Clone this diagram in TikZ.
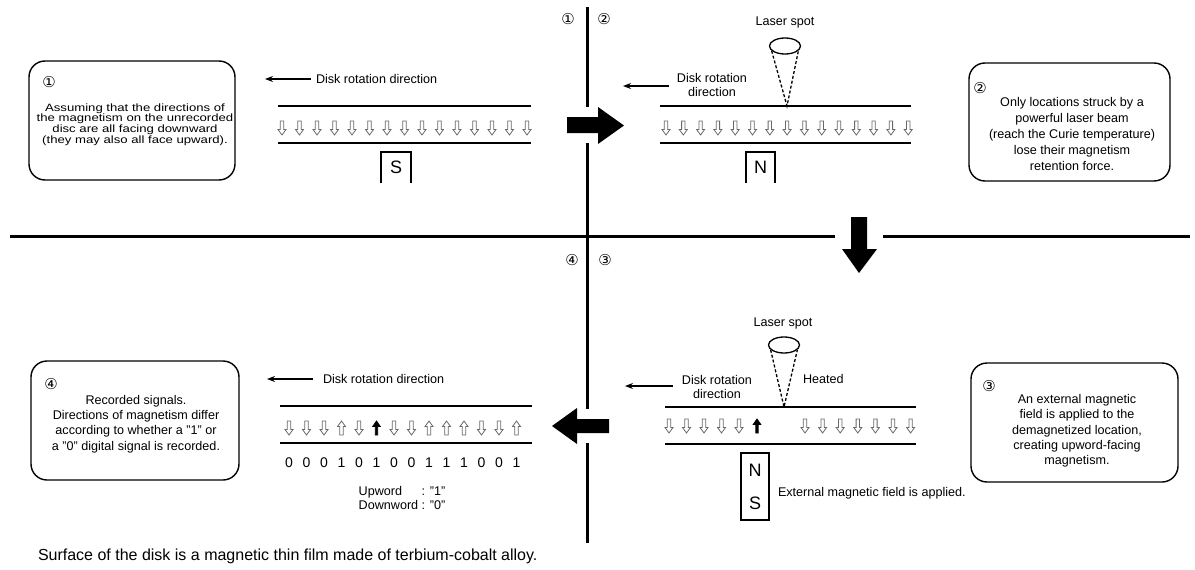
\documentclass[tikz,border=0pt]{standalone}
\usepackage{fontspec}
\setmainfont{Liberation Sans}
\newfontfamily\circfont{DejaVu Sans}
\usetikzlibrary{shapes.geometric,arrows.meta}
\definecolor{drawColor}{RGB}{0,0,0}
\definecolor{fillColor}{RGB}{0,0,0}
\definecolor{arrowGray}{RGB}{105,105,105}
\tikzset{
  magdn/.pic={\path[draw=arrowGray,line width=0.8pt,fill=white] (-1.7,-7) -- (1.7,-7) -- (1.7,1.5) -- (4,1.5) -- (0,7) -- (-4,1.5) -- (-1.7,1.5) -- cycle;},
  magup/.pic={\path[draw=arrowGray,line width=0.8pt,fill=white] (-1.7,7) -- (1.7,7) -- (1.7,-1.5) -- (4,-1.5) -- (0,-7) -- (-4,-1.5) -- (-1.7,-1.5) -- cycle;},
  magupb/.pic={\path[draw=drawColor,line width=0.8pt,fill=fillColor] (-1.2,7) -- (1.2,7) -- (1.2,-1.5) -- (3.8,-1.5) -- (0,-7) -- (-3.8,-1.5) -- (-1.2,-1.5) -- cycle;}
}
\begin{document}
\begin{tikzpicture}[x=1pt,y=-1pt,
  lbl/.style={inner sep=0pt,outer sep=0pt,align=center,font=\fontsize{12.6}{14}\selectfont},
  boxtxt/.style={inner sep=0pt,outer sep=0pt,align=center,font=\fontsize{12.6}{15.3}\selectfont},
  circnum/.style={inner sep=0pt,outer sep=0pt,font=\circfont\fontsize{15}{15}\selectfont},
  bitlbl/.style={inner sep=0pt,outer sep=0pt,font=\fontsize{14}{14}\selectfont},
  magtxt/.style={inner sep=0pt,outer sep=0pt,font=\fontsize{18}{18}\selectfont},
  infobox/.style={draw=drawColor,line width=1.4pt,rounded corners=16pt,inner sep=0pt},
  disk/.style={draw=drawColor,line width=1.8pt},
  divider/.style={draw=drawColor,line width=3pt},
  rotarrow/.style={draw=drawColor,line width=1.3pt,-{Stealth[length=8pt,width=6pt]}},
  cone/.style={draw=drawColor,line width=1.3pt,dash pattern=on 3pt off 2pt},
  spot/.style={draw=drawColor,ellipse,line width=1.3pt,minimum width=31pt,minimum height=16pt,inner sep=0pt},
  magnet/.style={draw=drawColor,line width=1.4pt}]
\useasboundingbox (0,0) rectangle (1195,570);

\begin{scope}
\path[divider] (587,7) -- (587,107);
\path[divider] (587,143) -- (587,409);
\path[divider] (587,443) -- (587,543);
\path[divider] (10,236) -- (835,236);
\path[divider] (883,236) -- (1190,236);
\end{scope}

\begin{scope}
\path[fill=fillColor] (567,117) -- (598,117) -- (598,107) -- (624,125.5) -- (598,144) -- (598,133) -- (567,133) -- cycle;
\path[fill=fillColor] (851,217) -- (867,217) -- (867,249) -- (877,249) -- (859,273) -- (842,249) -- (851,249) -- cycle;
\path[fill=fillColor] (609,419) -- (577,419) -- (577,408) -- (552,426) -- (577,444) -- (577,433) -- (609,433) -- cycle;
\end{scope}

\begin{scope}
\node[circnum] (cut1) at (568,19) {①};
\node[circnum] (cut2) at (604,19) {②};
\node[circnum] (cut4) at (572,260) {④};
\node[circnum] (cut3) at (605,260) {③};
\end{scope}

\begin{scope}
\node[lbl,anchor=west] (rot1) at (316,79) {Disk rotation direction};
\coordinate (rot1s) at (311,79);
\coordinate (rot1e) at (265,79);
\path[rotarrow] (rot1s) -- (rot1e);
\path[disk] (278,106) -- (531,106);
\path[disk] (278,143) -- (531,143);
\foreach \k in {0,...,14}
  \pic at ({282+17.5*\k},128) {magdn};
\node[magtxt,minimum width=30pt,minimum height=31pt] (magS1) at (396,167.5) {S};
\path[magnet] (magS1.south west) -- (magS1.north west) -- (magS1.north east) -- (magS1.south east);
\node[infobox,minimum width=206pt,minimum height=119pt] (box1) at (132,120.5) {};
\node[circnum] (num1) at (49,82) {①};
\node[boxtxt,font=\fontsize{10.6}{10.4}\selectfont] (txt1) at (135,125) {\scalebox{1.24}[1]{\begin{tabular}{@{}c@{}}Assuming that the directions of\\the magnetism on the unrecorded\\disc are all facing downward\\(they may also all face upward).\end{tabular}}};
\end{scope}

\begin{scope}
\node[lbl] (laser2) at (785,22) {Laser spot};
\node[spot] (spot2) at (785,46) {};
\coordinate (hit2) at (787,106);
\path[cone] (spot2.200) -- (hit2) -- (spot2.340);
\node[lbl] (rot2) at (712,84.5) {Disk rotation\\direction};
\coordinate (rot2s) at (669,86);
\coordinate (rot2e) at (623,86);
\path[rotarrow] (rot2s) -- (rot2e);
\path[disk] (660,106) -- (911,106);
\path[disk] (660,143) -- (911,143);
\foreach \k in {0,...,14}
  \pic at ({666+17.3*\k},128) {magdn};
\node[magtxt,minimum width=29pt,minimum height=31pt] (magN2) at (760.5,167.5) {N};
\path[magnet] (magN2.south west) -- (magN2.north west) -- (magN2.north east) -- (magN2.south east);
\node[infobox,minimum width=201pt,minimum height=118pt] (box2) at (1069.5,122) {};
\node[circnum] (num2) at (980,88) {②};
\node[boxtxt,font=\fontsize{12.6}{15.8}\selectfont] (txt2) at (1072,134) {Only locations struck by a\\powerful laser beam\\(reach the Curie temperature)\\lose their magnetism\\retention force.};
\end{scope}

\begin{scope}
\node[lbl] (laser3) at (783,323) {Laser spot};
\node[spot] (spot3) at (784,345) {};
\coordinate (hit3) at (784,407);
\path[cone] (spot3.200) -- (hit3) -- (spot3.340);
\node[lbl] (rot3) at (717,386.5) {Disk rotation\\direction};
\coordinate (rot3s) at (673,386);
\coordinate (rot3e) at (625,386);
\path[rotarrow] (rot3s) -- (rot3e);
\node[lbl,anchor=west] (heat3) at (803,379) {Heated};
\path[disk] (665,407) -- (916,407);
\path[disk] (665,444) -- (916,444);
\foreach \k in {0,...,4}
  \pic at ({669+17.5*\k},426) {magdn};
\pic at (757,426) {magupb};
\foreach \k in {0,...,6}
  \pic at ({805+17.6*\k},426) {magdn};
\node[magnet,minimum width=28pt,minimum height=67pt,inner sep=0pt] (mag3) at (755,486.5) {};
\node[magtxt] (magN3) at (755,470) {N};
\node[magtxt] (magS3) at (755,503) {S};
\node[lbl,anchor=west] (ext3) at (778,493) {External magnetic field is applied.};
\node[infobox,minimum width=207pt,minimum height=119pt] (box3) at (1074.5,422.5) {};
\node[circnum] (num3) at (989,386) {③};
\node[boxtxt] (txt3) at (1077,431) {An external magnetic\\field is applied to the\\demagnetized location,\\creating upword-facing\\magnetism.};
\end{scope}

\begin{scope}
\node[lbl,anchor=west] (rot4) at (323,379) {Disk rotation direction};
\coordinate (rot4s) at (313,379);
\coordinate (rot4e) at (267,379);
\path[rotarrow] (rot4s) -- (rot4e);
\path[disk] (280,406) -- (532,406);
\path[disk] (280,443) -- (532,443);
\foreach \m [count=\k from 0] in {magdn,magdn,magdn,magup,magdn,magupb,magdn,magdn,magup,magup,magup,magdn,magdn,magup}
  \pic at ({289+17.5*\k},428) {\m};
\foreach \b [count=\k from 0] in {0,0,0,1,0,1,0,0,1,1,1,0,0,1}
  \node[bitlbl] (bit\k) at ({289+17.5*\k},463) {\b};
\node[lbl] (legend4) at (402,500) {\begin{tabular}{@{}l@{ }l@{}}Upword & : "1"\\Downword & : "0"\end{tabular}};
\node[infobox,minimum width=208pt,minimum height=119pt] (box4) at (135,420.5) {};
\node[circnum] (num4) at (51,384) {④};
\node[boxtxt] (txt4) at (136,424) {Recorded signals.\\Directions of magnetism differ\\according to whether a "1" or\\a "0" digital signal is recorded.};
\node[inner sep=0pt,outer sep=0pt,anchor=base west,font=\fontsize{16}{16}\selectfont] (note) at (38,560) {Surface of the disk is a magnetic thin film made of terbium-cobalt alloy.};
\end{scope}
\end{tikzpicture}
\end{document}
